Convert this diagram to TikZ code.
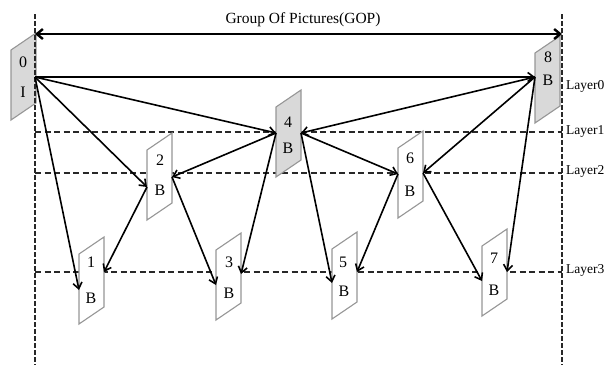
\documentclass[tikz,border=0pt]{standalone}
\usepackage{fontspec}
\setmainfont{Liberation Serif}
\usetikzlibrary{arrows.meta}

\definecolor{framegray}{RGB}{217,217,217}
\definecolor{edgegray}{RGB}{150,150,150}
\definecolor{dashgray}{RGB}{40,40,40}

\tikzset{
  picframe/.style={draw=edgegray, line width=1.1pt},
  layerline/.style={dashgray, line width=2.1pt, dash pattern=on 6pt off 3.5pt},
  gopline/.style={dashgray, line width=2.8pt, dash pattern=on 5pt off 2pt},
  pred/.style={-{Straight Barb[length=6pt,width=9pt]}, line width=1.6pt},
  frametxt/.style={font=\fontsize{16}{16}\selectfont, inner sep=0pt},
  layertxt/.style={font=\fontsize{13.5}{13.5}\selectfont, anchor=west, inner sep=0pt}
}

% one picture of the GOP: x = left edge, y = top of right edge
\newcommand{\gopframe}[3]{\draw[picframe, fill=#3] (#1,#2+17) -- ++(25,-17) -- ++(0,70) -- ++(-25,17) -- cycle;}

\begin{document}
\begin{tikzpicture}[x=1pt, y=-1pt]
  \useasboundingbox (0,0) rectangle (609,365);

  % Layers
  \draw[layerline] (35,132) -- (562,132);
  \draw[layerline] (35,173) -- (562,173);
  \draw[layerline] (35,272) -- (562,272);

  \node[layertxt] (lay0) at (566,86) {Layer0};
  \node[layertxt] (lay1) at (566,131) {Layer1};
  \node[layertxt] (lay2) at (566,171) {Layer2};
  \node[layertxt] (lay3) at (566,270) {Layer3};

  % Pictures
  \gopframe{11}{33}{framegray}
  \gopframe{535}{36}{framegray}
  \gopframe{276}{90}{framegray}
  \gopframe{147}{133}{white}
  \gopframe{398}{131}{white}
  \gopframe{79}{237}{white}
  \gopframe{216}{233}{white}
  \gopframe{332}{232}{white}
  \gopframe{482}{229}{white}

  \node[frametxt] (n0) at (23,62) {0};   \node[frametxt] (t0) at (23,92) {I};
  \node[frametxt] (n8) at (548,57) {8};  \node[frametxt] (t8) at (548,80) {B};
  \node[frametxt] (n4) at (288,122) {4}; \node[frametxt] (t4) at (288,148) {B};
  \node[frametxt] (n2) at (160,160) {2}; \node[frametxt] (t2) at (160,190) {B};
  \node[frametxt] (n6) at (410,158) {6}; \node[frametxt] (t6) at (410,191) {B};
  \node[frametxt] (n1) at (91,262) {1};  \node[frametxt] (t1) at (91,298) {B};
  \node[frametxt] (n3) at (229,262) {3}; \node[frametxt] (t3) at (229,293) {B};
  \node[frametxt] (n5) at (343,262) {5}; \node[frametxt] (t5) at (344,291) {B};
  \node[frametxt] (n7) at (494,258) {7}; \node[frametxt] (t7) at (494,290) {B};

  % GOP borders
  \draw[gopline] (35,14) -- (35,365);
  \draw[gopline] (562,14) -- (562,365);

  \coordinate (gopl) at (35,34);
  \coordinate (gopr) at (562,34);
  \draw[{Straight Barb[length=6pt,width=10pt]}-{Straight Barb[length=6pt,width=10pt]}, line width=2.4pt] (gopl) -- (gopr);
  \node[font=\fontsize{15.5}{15.5}\selectfont] (gop) at (303,20) {Group Of Pictures(GOP)};

  % arrow ends at the pictures
  \coordinate (f0r) at (35,77);
  \coordinate (f8l) at (535,77);
  \coordinate (f4l) at (276,133);
  \coordinate (f4r) at (301,133);
  \coordinate (f2l) at (147,187);
  \coordinate (f2r) at (172,177);
  \coordinate (f6l) at (398,174);
  \coordinate (f6r) at (423,173);
  \coordinate (f1l) at (79,290);
  \coordinate (f1r) at (104,272);
  \coordinate (f3l) at (216,285);
  \coordinate (f3r) at (241,274);
  \coordinate (f5l) at (332,283);
  \coordinate (f5r) at (357,272);
  \coordinate (f7l) at (482,281);
  \coordinate (f7r) at (507,272);

  % references
  \draw[pred] (f0r) -- (f8l);
  \draw[pred] (f0r) -- (f4l);
  \draw[pred] (f0r) -- (f2l);
  \draw[pred] (f0r) -- (f1l);
  \draw[pred] (f8l) -- (f4r);
  \draw[pred] (f8l) -- (f6r);
  \draw[pred] (f8l) -- (f7r);
  \draw[pred] (f4l) -- (f2r);
  \draw[pred] (f4l) -- (f3r);
  \draw[pred] (f4r) -- (f5l);
  \draw[pred] (f4r) -- (f6l);
  \draw[pred] (f2l) -- (f1r);
  \draw[pred] (f2r) -- (f3l);
  \draw[pred] (f6l) -- (f5r);
  \draw[pred] (f6r) -- (f7l);
\end{tikzpicture}
\end{document}
